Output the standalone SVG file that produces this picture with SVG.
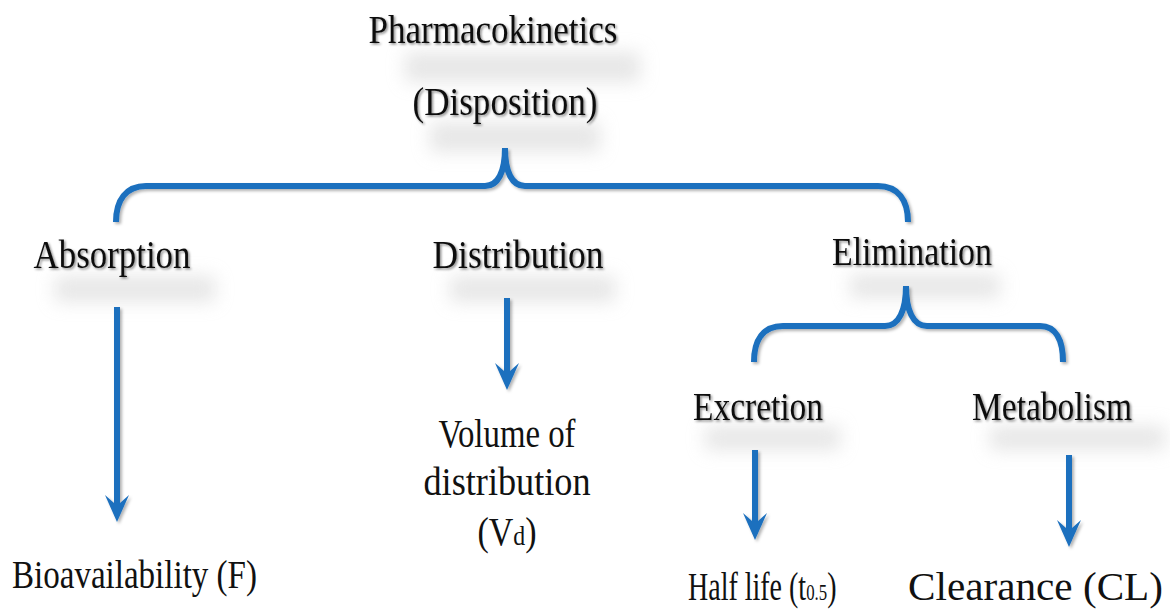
<svg xmlns="http://www.w3.org/2000/svg" width="1170" height="609" viewBox="0 0 1170 609">
<style>
  .t { font-family: "Liberation Serif", "DejaVu Serif", serif; font-size: 40px; fill: #111; filter: url(#ts); }
  .b { font-family: "Liberation Serif", "DejaVu Serif", serif; font-size: 40px; fill: #111; }
  .ln { fill: none; stroke: #1b6fbe; stroke-width: 6; stroke-linecap: butt; filter: url(#ls); }
  .glow { fill: #cfcfcf; opacity: 0.5; filter: url(#blur); }
</style>
<defs>
  <filter id="ts" x="-10%" y="-30%" width="120%" height="160%">
    <feDropShadow dx="1.5" dy="1.5" stdDeviation="1.2" flood-color="#000" flood-opacity="0.45"/>
  </filter>
  <filter id="ls" x="-20%" y="-20%" width="140%" height="140%">
    <feDropShadow dx="2" dy="2" stdDeviation="1.5" flood-color="#000" flood-opacity="0.3"/>
  </filter>
  <filter id="blur" x="-30%" y="-100%" width="160%" height="300%">
    <feGaussianBlur stdDeviation="9"/>
  </filter>
</defs>

<g id="reflections">
  <rect class="glow" x="405" y="52" width="235" height="30"/>
  <rect class="glow" x="430" y="122" width="170" height="30"/>
  <rect class="glow" x="55" y="276" width="160" height="26"/>
  <rect class="glow" x="450" y="276" width="165" height="26"/>
  <rect class="glow" x="850" y="274" width="150" height="24"/>
  <rect class="glow" x="705" y="426" width="135" height="24"/>
  <rect class="glow" x="990" y="426" width="175" height="24"/>
</g>

<g id="connectors">
  <path class="ln" d="M116,222 C116,200 126,186 146,186 L485,186 C498,186 505,172 505,148 C505,172 512,186 525,186 L878,186 C898,186 908,200 908,222"/>
  <path class="ln" d="M505,186 L505,217"/>
  <path class="ln" d="M754,362 C754,340 763,326 783,326 L885,326 C899,326 906,310 906,286 C906,310 913,326 927,326 L1040,326 C1056,326 1063,340 1063,362"/>
  <g fill="#1b6fbe" filter="url(#ls)">
    <path d="M114,307 L120,307 L120,503 L129,495 L117,522 L105,495 L114,503 Z"/>
    <path d="M504,298 L510,298 L510,371 L519,363 L507,390 L495,363 L504,371 Z"/>
    <path d="M752,450 L758,450 L758,521 L767,513 L755,540 L743,513 L752,521 Z"/>
    <path d="M1066,455 L1072,455 L1072,528 L1081,520 L1069,547 L1057,520 L1066,528 Z"/>
  </g>
</g>

<g id="pharmacokinetics">
  <text class="t" x="493" y="43" text-anchor="middle" textLength="249" lengthAdjust="spacingAndGlyphs">Pharmacokinetics</text>
  <text class="t" x="505" y="115" text-anchor="middle" textLength="185" lengthAdjust="spacingAndGlyphs">(Disposition)</text>
</g>
<g id="absorption">
  <text class="t" x="112" y="268" text-anchor="middle" textLength="157" lengthAdjust="spacingAndGlyphs">Absorption</text>
</g>
<g id="distribution">
  <text class="t" x="518" y="268" text-anchor="middle" textLength="171" lengthAdjust="spacingAndGlyphs">Distribution</text>
</g>
<g id="elimination">
  <text class="t" x="912" y="265" text-anchor="middle" textLength="160" lengthAdjust="spacingAndGlyphs">Elimination</text>
</g>
<g id="excretion">
  <text class="t" x="758" y="420" text-anchor="middle" textLength="130" lengthAdjust="spacingAndGlyphs">Excretion</text>
</g>
<g id="metabolism">
  <text class="t" x="1052" y="420" text-anchor="middle" textLength="160" lengthAdjust="spacingAndGlyphs">Metabolism</text>
</g>
<g id="bioavailability">
  <text class="b" x="12" y="588" textLength="245" lengthAdjust="spacingAndGlyphs">Bioavailability (F)</text>
</g>
<g id="volume">
  <text class="b" x="507" y="447" text-anchor="middle" textLength="137" lengthAdjust="spacingAndGlyphs">Volume of</text>
  <text class="b" x="507" y="495" text-anchor="middle" textLength="167" lengthAdjust="spacingAndGlyphs">distribution</text>
  <text class="b" transform="translate(507,545) scale(0.85,1)" text-anchor="middle">(V<tspan font-size="28">d</tspan>)</text>
</g>
<g id="halflife">
  <text class="b" transform="translate(688,600) scale(0.7,1)">Half life (t<tspan font-size="24">0.5</tspan>)</text>
</g>
<g id="clearance">
  <text class="b" x="908" y="600" textLength="255" lengthAdjust="spacingAndGlyphs">Clearance (CL)</text>
</g>
</svg>
